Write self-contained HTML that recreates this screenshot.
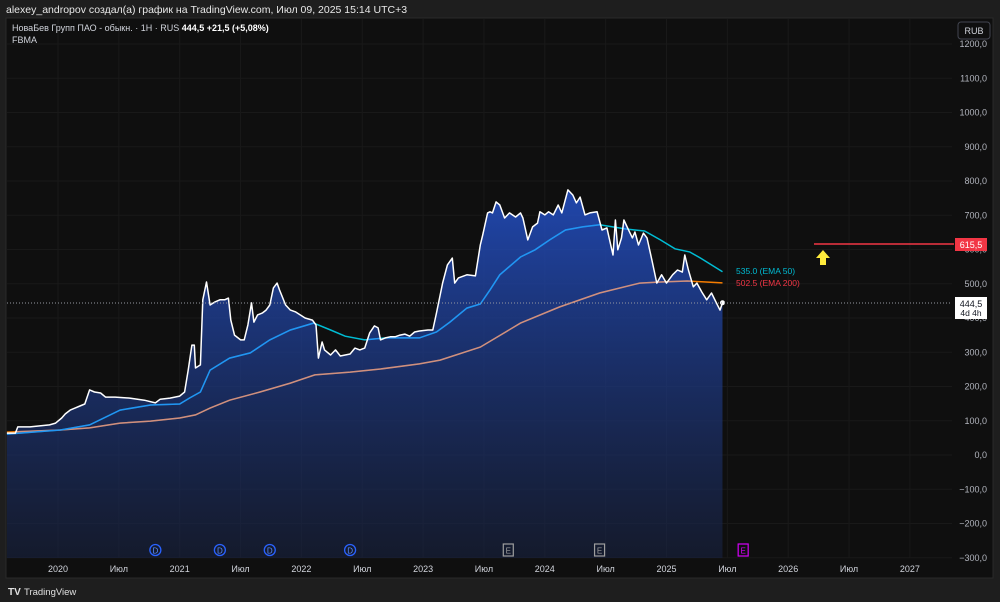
<!DOCTYPE html>
<html><head><meta charset="utf-8">
<style>
html,body{margin:0;padding:0;background:#1e1e1e;width:1000px;height:602px;overflow:hidden;font-family:"Liberation Sans","DejaVu Sans",sans-serif}
svg text{font-family:"Liberation Sans","DejaVu Sans",sans-serif}
</style></head>
<body>
<svg id="c" width="1000" height="602" xmlns="http://www.w3.org/2000/svg">
<defs>
<linearGradient id="fillg" x1="0" y1="0" x2="0" y2="1">
<stop offset="0" stop-color="#2350c8" stop-opacity="0.85"/>
<stop offset="1" stop-color="#182240" stop-opacity="0.6"/>
</linearGradient>
<clipPath id="areaclip"><polygon id="clipPoly" points=""/></clipPath>
</defs>
<rect x="0" y="0" width="1000" height="602" fill="#1e1e1e"/>
<text x="6" y="13" fill="#e8e8e8" font-size="10.5">alexey_andropov создал(а) график на TradingView.com, Июл 09, 2025 15:14 UTC+3</text>
<rect x="6" y="18" width="987" height="560" fill="#0f0f0f" stroke="#2a2a2a"/>
<g id="grid"></g>
<g id="plot"></g>
<text x="12" y="31" fill="#d1d4dc" font-size="9">НоваБев Групп ПАО - обыкн. · 1H · RUS <tspan fill="#fff" font-weight="bold">444,5</tspan> <tspan fill="#fff" font-weight="bold">+21,5 (+5,08%)</tspan></text>
<text x="12" y="43" fill="#d1d4dc" font-size="9">FBMA</text>
<rect x="958" y="22" width="32" height="17" rx="3" fill="#0f0f0f" stroke="#434651"/>
<text x="974" y="34" fill="#d1d4dc" font-size="9" text-anchor="middle">RUB</text>
<g id="yaxis"></g>
<g id="xaxis"></g>
<g id="events"></g>
<line x1="814" y1="244" x2="954" y2="244" stroke="#f23645" stroke-width="1.5"/>
<rect x="955" y="238" width="32" height="13" fill="#f23645"/>
<text x="971" y="248" fill="#fff" font-size="9" text-anchor="middle">615,5</text>
<polygon points="823,250 816,258 820,258 820,265 826,265 826,258 830,258" fill="#ffeb3b"/>
<line x1="7" y1="303" x2="952" y2="303" stroke="#9598a1" stroke-dasharray="1,2"/>
<rect x="955" y="297" width="32" height="22" fill="#fff"/>
<text x="971" y="307" fill="#131722" font-size="9" text-anchor="middle">444,5</text>
<text x="971" y="316" fill="#131722" font-size="8.5" text-anchor="middle">4d 4h</text>
<text x="736" y="274" fill="#00bcd4" font-size="8.5">535.0 (EMA 50)</text>
<text x="736" y="286" fill="#f23645" font-size="8.5">502.5 (EMA 200)</text>
<text x="8" y="595" fill="#e0e0e0" font-size="10" font-weight="bold">TV</text>
<text x="24" y="595" fill="#e0e0e0" font-size="9.5">TradingView</text>
</svg>
<script>
const priceT=[2019.58,2019.65,2019.67,2019.77,2019.85,2019.93,2019.98,2020.03,2020.06,2020.10,2020.14,2020.18,2020.22,2020.26,2020.30,2020.35,2020.39,2020.47,2020.59,2020.71,2020.80,2020.84,2020.92,2021.00,2021.04,2021.07,2021.10,2021.12,2021.13,2021.17,2021.19,2021.22,2021.25,2021.29,2021.33,2021.37,2021.40,2021.42,2021.45,2021.50,2021.53,2021.56,2021.59,2021.61,2021.64,2021.68,2021.71,2021.74,2021.77,2021.80,2021.82,2021.87,2021.91,2021.95,2021.99,2022.03,2022.09,2022.12,2022.14,2022.17,2022.19,2022.24,2022.28,2022.32,2022.36,2022.40,2022.44,2022.48,2022.52,2022.56,2022.60,2022.63,2022.65,2022.69,2022.73,2022.77,2022.81,2022.85,2022.89,2022.93,2022.97,2023.04,2023.08,2023.11,2023.16,2023.20,2023.24,2023.26,2023.29,2023.36,2023.43,2023.47,2023.49,2023.53,2023.55,2023.57,2023.60,2023.63,2023.67,2023.71,2023.76,2023.80,2023.82,2023.86,2023.90,2023.94,2023.96,2024.00,2024.03,2024.07,2024.11,2024.14,2024.19,2024.23,2024.26,2024.29,2024.33,2024.37,2024.43,2024.47,2024.51,2024.56,2024.58,2024.60,2024.63,2024.65,2024.68,2024.72,2024.74,2024.77,2024.81,2024.84,2024.88,2024.92,2024.96,2025.00,2025.05,2025.09,2025.13,2025.15,2025.18,2025.22,2025.25,2025.29,2025.33,2025.37,2025.41,2025.44,2025.46];
const priceV=[64,64,82,82,85,88,93,108,120,131,137,143,149,190,184,181,169,169,166,160,152,163,166,172,184,248,321,321,254,263,453,505,438,447,453,453,458,394,350,336,336,380,444,388,409,415,423,438,488,502,482,438,423,418,409,400,394,380,283,330,307,292,307,289,292,295,312,307,312,356,377,371,336,342,345,345,350,353,347,359,362,365,365,415,502,555,575,502,517,526,523,613,642,707,710,707,739,730,692,707,695,707,692,628,666,677,710,701,710,701,730,707,774,759,736,753,701,707,710,657,663,584,686,599,634,686,663,634,651,613,648,634,569,502,526,502,526,540,534,584,540,491,502,476,453,473,444,423,444.5];
const ema50T=[2019.58,2020.02,2020.26,2020.51,2020.76,2021.00,2021.08,2021.17,2021.25,2021.41,2021.58,2021.74,2021.91,2022.10,2022.24,2022.36,2022.52,2022.69,2022.97,2023.11,2023.22,2023.36,2023.47,2023.55,2023.63,2023.80,2023.92,2024.04,2024.17,2024.31,2024.45,2024.66,2024.82,2024.95,2025.07,2025.19,2025.28,2025.46];
const ema50V=[61,73,88,131,146,149,166,184,248,283,298,336,365,385,365,347,336,342,342,359,388,429,441,482,526,578,599,628,657,666,672,660,654,628,602,593,575,535];
const ema200T=[2019.58,2020.02,2020.26,2020.51,2020.76,2021.00,2021.13,2021.25,2021.41,2021.66,2021.91,2022.11,2022.40,2022.65,2022.97,2023.14,2023.47,2023.80,2024.12,2024.45,2024.78,2024.95,2025.17,2025.46];
const ema200V=[67,73,79,93,99,108,117,137,160,184,210,234,242,251,266,277,315,385,432,473,502,505,508,502.5];
const yTicks=[1200,1100,1000,900,800,700,600,500,400,300,200,100,0,-100,-200,-300];
const xTickT=[2020,2020.5,2021,2021.5,2022,2022.5,2023,2023.5,2024,2024.5,2025,2025.5,2026,2026.5,2027];
const xTickL=["2020","Июл","2021","Июл","2022","Июл","2023","Июл","2024","Июл","2025","Июл","2026","Июл","2027"];
const divT=[2020.8,2021.33,2021.74,2022.4];
const earnT=[2023.7,2024.45,2025.63];
const earnFuture=[false,false,true];

const X=t=>58+(t-2020)*121.7;
const Y=v=>455-v*0.3425;
const NS="http://www.w3.org/2000/svg";
function mk(tag,attrs,parent){const e=document.createElementNS(NS,tag);for(const k in attrs)e.setAttribute(k,attrs[k]);parent.appendChild(e);return e;}
const grid=document.getElementById('grid'),plot=document.getElementById('plot'),ya=document.getElementById('yaxis'),xa=document.getElementById('xaxis'),ev=document.getElementById('events');
yTicks.forEach(v=>{
 const l=mk('line',{x1:7,x2:952,y1:Y(v),y2:Y(v),stroke:'#191919'},grid);
 
 
 const t=mk('text',{x:987,y:Y(v)+3,fill:'#b2b5be','font-size':9,'text-anchor':'end'},ya);
 t.textContent=(v<0?'−'+(-v):String(v))+',0';
 
 
});
xTickT.forEach((tt,i)=>{
 const l=mk('line',{x1:X(tt),x2:X(tt),y1:19,y2:558,stroke:'#191919'},grid);
 
 
 const t=mk('text',{x:X(tt),y:572,fill:'#d1d4dc','font-size':9,'text-anchor':'middle'},xa);
 t.textContent=xTickL[i];
 
 
});
function pts(T,V){return T.map((t,i)=>X(t).toFixed(1)+','+Y(V[i]).toFixed(1)).join(' ');}
const bot=558;
const areaPts=X(priceT[0])+','+bot+' '+pts(priceT,priceV)+' '+X(priceT[priceT.length-1])+','+bot;
document.getElementById('clipPoly').setAttribute('points',areaPts);
const e200=mk('polyline',{points:pts(ema200T,ema200V),fill:'none',stroke:'#f57c00','stroke-width':1.5},plot);


const e50=mk('polyline',{points:pts(ema50T,ema50V),fill:'none',stroke:'#00bcd4','stroke-width':1.5},plot);


const area=mk('polygon',{points:areaPts,fill:'url(#fillg)'},plot);


const inner=mk('g',{'clip-path':'url(#areaclip)'},plot);


const e200b=mk('polyline',{points:pts(ema200T,ema200V),fill:'none',stroke:'#d0907e','stroke-width':1.5},inner);


const e50b=mk('polyline',{points:pts(ema50T,ema50V),fill:'none',stroke:'#2196f3','stroke-width':1.5},inner);


const pl=mk('polyline',{points:pts(priceT,priceV),fill:'none',stroke:'#ffffff','stroke-width':1.5,'stroke-linejoin':'round'},plot);


const dot=mk('circle',{cx:X(priceT[priceT.length-1]),cy:Y(priceV[priceV.length-1]),r:2.5,fill:'#fff'},plot);


divT.forEach(t=>{
 const c=mk('circle',{cx:X(t),cy:550,r:5.5,fill:'none',stroke:'#2962ff','stroke-width':1.3},ev);
 
 
 const tx=mk('text',{x:X(t),y:553.5,fill:'#5b8cff','font-size':8,'text-anchor':'middle'},ev);
 tx.textContent='D';
 
 
});
earnT.forEach((t,i)=>{
 const col=earnFuture[i]?'#d500f9':'#9e9e9e';
 const r=mk('rect',{x:X(t)-5,y:544,width:10,height:12,fill:'none',stroke:col,'stroke-width':1.2},ev);
 
 
 const tx=mk('text',{x:X(t),y:553.5,fill:col,'font-size':8,'text-anchor':'middle'},ev);
 tx.textContent='E';
 
 
});
</script>
</body></html>
